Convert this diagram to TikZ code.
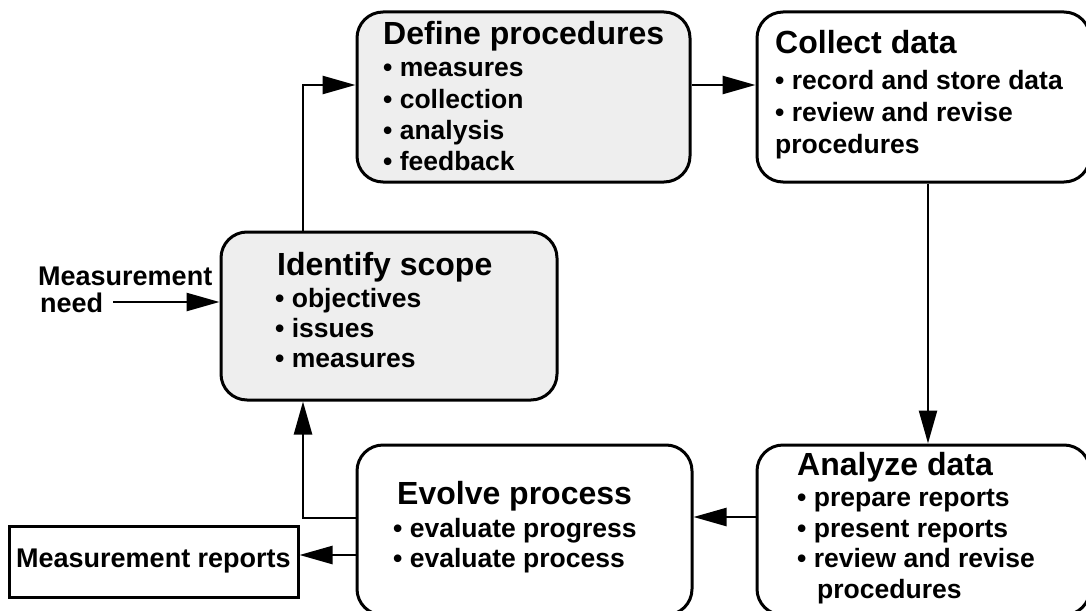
\documentclass[tikz,border=0pt]{standalone}
\usepackage{fontspec}
\setmainfont{Liberation Sans}
\usetikzlibrary{arrows.meta}

\definecolor{boxgray}{RGB}{238,238,238}

\tikzset{
  stage/.style={draw, line width=3pt, rounded corners=26pt, inner sep=0pt},
  head/.style={anchor=base west, inner sep=0pt, font=\bfseries\fontsize{32}{36}\selectfont},
  item/.style={anchor=base west, inner sep=0pt, font=\bfseries\fontsize{26.5}{31}\selectfont},
  side/.style={anchor=base west, inner sep=0pt, font=\bfseries\fontsize{27}{31}\selectfont},
  flow/.style={line width=2.5pt, -{Triangle[length=33pt,width=18pt]}}
}

\begin{document}
\begin{tikzpicture}[x=1pt,y=-1pt]
  \useasboundingbox (0,0) rectangle (1086,610);
  \clip (0,0) rectangle (1086,610);

  % boxes
  \node[stage, fill=boxgray, minimum width=333pt, minimum height=170pt] (define) at (523.5,97) {};
  \node[stage, minimum width=333pt, minimum height=170pt] (collect) at (923.5,97) {};
  \node[stage, fill=boxgray, minimum width=336pt, minimum height=168pt] (identify) at (389,316) {};
  \node[stage, minimum width=333pt, minimum height=170pt] (analyze) at (923.5,530) {};
  \node[stage, minimum width=335pt, minimum height=170pt] (evolve) at (524.5,530) {};
  \node[draw, line width=3pt, minimum width=289pt, minimum height=71pt,
        font=\bfseries\fontsize{27}{31}\selectfont] (reports) at (153.5,561.5) {Measurement reports};

  % box texts
  \node[head] (define-head) at (383,45) {Define procedures};
  \foreach \txt [count=\i] in {measures, collection, analysis, feedback}
    \node[item] (define-\i) at (383,{46+31*\i}) {• \txt};

  \node[head] (collect-head) at (775,53) {Collect data};
  \foreach \txt [count=\i] in {• record and store data, • review and revise, procedures}
    \node[item] (collect-\i) at (775,{57+32*\i}) {\txt};

  \node[head] (identify-head) at (277,275) {Identify scope};
  \foreach \txt [count=\i] in {objectives, issues, measures}
    \node[item] (identify-\i) at (275,{277+30*\i}) {• \txt};

  \node[head] (analyze-head) at (797,475) {Analyze data};
  \foreach \txt [count=\i] in {prepare reports, present reports, review and revise}
    \node[item] (analyze-\i) at (797,{476+30.5*\i}) {• \txt};
  \node[item] (analyze-4) at (817,598) {procedures};

  \node[head] (evolve-head) at (397,504) {Evolve process};
  \foreach \txt [count=\i] in {evaluate progress, evaluate process}
    \node[item] (evolve-\i) at (393,{507+30*\i}) {• \txt};

  \node[side] (need-1) at (38,285) {Measurement};
  \node[side] (need-2) at (40,312) {need};

  % connectors
  \coordinate (start) at (113,302);
  \coordinate (turn) at (303,85);
  \coordinate (drop) at (928,0);

  \draw[flow] (start) -- (identify.west |- start);
  \draw[flow] (identify.north -| turn) |- (define.west |- turn);
  \draw[flow] (define.east |- turn) -- (collect.west |- turn);
  \draw[flow] (collect.south -| drop) -- (analyze.north -| drop);
  \draw[flow] (analyze.west |- 0,517) -- (evolve.east |- 0,517);
  \draw[flow] (evolve.west |- 0,518) -| (identify.south -| turn);
  \draw[flow] (evolve.west |- 0,555) -- (reports.east |- 0,555);
\end{tikzpicture}
\end{document}
